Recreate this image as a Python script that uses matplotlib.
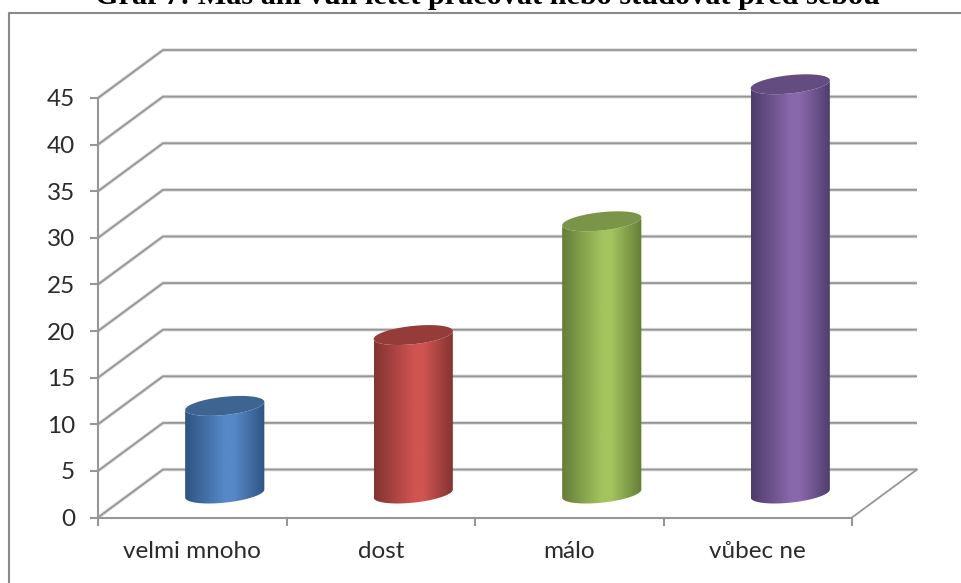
import numpy as np
import matplotlib
matplotlib.use("Agg")
import matplotlib.pyplot as plt
from matplotlib.colors import LinearSegmentedColormap
from matplotlib.lines import Line2D
from matplotlib.patches import PathPatch
from matplotlib.path import Path

categories = ["velmi mnoho", "dost", "málo", "vůbec ne"]
values = [9.4, 17, 29.2, 43.9]
y_ticks = [0, 5, 10, 15, 20, 25, 30, 35, 40, 45]
title = "Graf 7: Máš ani vůli letět pracovat nebo studovat před sebou"

edge_colors = ["#2f5482", "#823331", "#647d38", "#4e3c6b"]
mid_colors = ["#5688c8", "#d05451", "#a3c45e", "#8868ab"]
top_colors = ["#3e6492", "#953b38", "#7a9448", "#634c7f"]

W, H = 961, 583
GRID = "#969696"
TEXT = "#2b2b2b"

# chart box in pixels
LEFT, RIGHT, BOTTOM, TOP = 98, 852, 517.5, 98

# 3d look: how far the back wall sits behind the front, in data units
DEPTH_X = 65 / 188.5
DEPTH_Y = 48 / 9.33


def px(x, y):
    return x / W, 1 - y / H


def cylinder(ax, center, height, edge, mid, top):
    a = 0.21            # half width, categories
    b = 0.98            # half height of the ellipse, value units
    shear = 0.43        # ellipse leans up to the right
    cx = center + DEPTH_X / 2
    base = DEPTH_Y / 2
    roof = base + height

    t = np.linspace(np.pi, 2 * np.pi, 60)
    low_x = cx + a * np.cos(t)
    low_y = base + b * np.sin(t) + shear * np.cos(t)
    t2 = t[::-1]
    up_x = cx + a * np.cos(t2)
    up_y = roof + b * np.sin(t2) + shear * np.cos(t2)
    body = np.column_stack([np.r_[low_x, up_x], np.r_[low_y, up_y]])
    patch = PathPatch(Path(body), fc="none", ec="none", zorder=3)
    ax.add_patch(patch)

    cmap = LinearSegmentedColormap.from_list(
        "shade", [(0, edge), (0.5, mid), (0.62, mid), (1, edge)])
    grad = np.linspace(0, 1, 256).reshape(1, -1)
    im = ax.imshow(grad, cmap=cmap, aspect="auto", zorder=3,
                   extent=(cx - a, cx + a, base - 2, roof + 2), origin="lower")
    im.set_clip_path(patch)
    im.set_clip_box(ax.figure.bbox)

    t3 = np.linspace(0, 2 * np.pi, 120)
    ax.fill(cx + a * np.cos(t3),
            roof + b * np.sin(t3) + shear * np.cos(t3),
            color=top, lw=0, zorder=4, clip_on=False)


fig = plt.figure(figsize=(W / 100, H / 100), dpi=100, facecolor="white")

# outer frame, runs off the right and bottom of the page
fig.add_artist(Line2D(*zip(px(8.5, H), px(8.5, 12.5), px(W, 12.5)),
                      color="#8a8a8a", lw=1.5))

fig.text(*px(488, 4), title, ha="center", va="baseline",
         family="Liberation Serif", weight="bold", fontsize=21.8, color="black")

x0, y0 = px(LEFT, BOTTOM)
x1, y1 = px(RIGHT, TOP)
ax = fig.add_axes([x0, y0, x1 - x0, y1 - y0])
ax.set_facecolor("none")

n = len(categories)

# walls: diagonal on the left, long line along the back
for v in y_ticks:
    xs = [0, DEPTH_X, n + DEPTH_X]
    ys = [v, v + DEPTH_Y, v + DEPTH_Y]
    ax.plot(xs, ys, color="#dcdcdc", lw=2.6, clip_on=False, zorder=1,
            solid_capstyle="butt")
    ax.plot(xs, ys, color=GRID, lw=1.3, clip_on=False, zorder=2,
            solid_capstyle="butt")
ax.plot([n, n + DEPTH_X], [0, DEPTH_Y], color=GRID, lw=1.3, clip_on=False, zorder=2)

for i in range(n):
    cylinder(ax, i + 0.5, values[i], edge_colors[i], mid_colors[i], top_colors[i])

ax.set_xlim(0, n)
ax.set_ylim(0, 45)

for side in ["top", "right"]:
    ax.spines[side].set_visible(False)
for side in ["left", "bottom"]:
    ax.spines[side].set_color(GRID)
    ax.spines[side].set_linewidth(1.5)

ax.set_yticks(y_ticks)
ax.set_xticks(range(n + 1))
ax.set_xticklabels([])
ax.set_xticks([i + 0.5 for i in range(n)], categories, minor=True)
ax.tick_params(axis="both", which="major", color=GRID, width=1.5, length=5.5)
ax.tick_params(axis="y", labelsize=17.5, labelcolor=TEXT, pad=11)
ax.tick_params(axis="x", which="minor", length=0, labelsize=17.5,
               labelcolor=TEXT, pad=17)
for label in ax.get_xticklabels(minor=True) + ax.get_yticklabels():
    label.set_family("Lato")

fig.savefig("out.png", dpi=100)
